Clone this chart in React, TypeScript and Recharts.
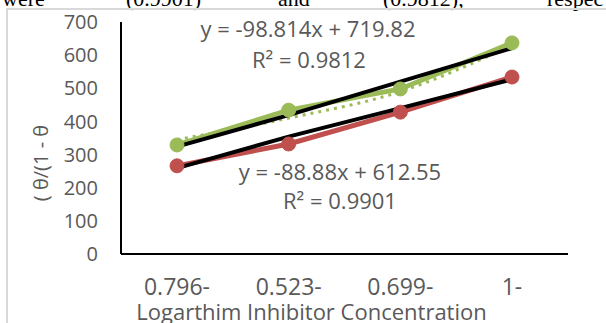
import { Line, LineChart, XAxis, YAxis } from "recharts";

// values
const categories = ["0.796-", "0.523-", "0.699-", "1-"];
const greenValues = [329, 434, 498, 637];
const redValues = [266, 332, 428, 534];
const greenDotted = [345, 410, 490, 630];
const greenTrend = [324, 419, 520, 621];
const redTrend = [259, 354, 440, 527];
const yTicks = [0, 100, 200, 300, 400, 500, 600, 700];

const GREEN = "#9BBB59";
const RED = "#C0504D";
const GREY_TEXT = "#595959";
const FONT = "'Open Sans', sans-serif";

const data = categories.map((cat, i) => ({
  cat,
  green: greenValues[i],
  red: redValues[i],
  greenDotted: greenDotted[i],
  greenTrend: greenTrend[i],
  redTrend: redTrend[i],
}));

const topWords = [
  { text: "were", left: 2 },
  { text: "(0.9901)", left: 126 },
  { text: "and", left: 278 },
  { text: "(0.9812),", left: 383 },
  { text: "respec", left: 547 },
];

const annotations = [
  { text: "y = -98.814x + 719.82", x: 308, y: 29 },
  { text: "R² = 0.9812", x: 309, y: 60 },
  { text: "y = -88.88x + 612.55", x: 340, y: 172 },
  { text: "R² = 0.9901", x: 340, y: 201 },
];

function YTitle({ viewBox }: any) {
  const cy = viewBox.y + viewBox.height / 2 + 25;
  return (
    <text
      x={40}
      y={cy}
      transform={`rotate(-90, 40, ${cy})`}
      textAnchor="middle"
      dominantBaseline="central"
      fill={GREY_TEXT}
      fontSize={20}
      fontFamily={FONT}
    >
      ( θ/(1 - θ
    </text>
  );
}

function XTitle({ viewBox }: any) {
  return (
    <text
      x={viewBox.x + viewBox.width / 2 - 33}
      y={320}
      textAnchor="middle"
      fill={GREY_TEXT}
      fontSize={22}
      fontFamily={FONT}
    >
      Logarthim Inhibitor Concentration
    </text>
  );
}

export default function App() {
  return (
    <div
      style={{
        position: "fixed",
        left: 0,
        top: 0,
        width: 606,
        height: 323,
        overflow: "hidden",
        background: "#fff",
      }}
    >
      {topWords.map((w) => (
        <span
          key={w.text}
          style={{
            position: "absolute",
            top: -12,
            left: w.left,
            fontFamily: "'Liberation Serif', 'Times New Roman', serif",
            fontSize: 22,
            lineHeight: "22px",
            color: "#000",
            whiteSpace: "nowrap",
          }}
        >
          {w.text}
        </span>
      ))}
      <div
        style={{
          position: "absolute",
          left: 6,
          top: 8,
          width: 700,
          height: 400,
          borderTop: "2px solid #d9d9d9",
          borderLeft: "2px solid #d9d9d9",
        }}
      />
      <div style={{ position: "absolute", left: 0, top: 0 }}>
        <LineChart width={606} height={323} data={data} margin={{ top: 22, right: 38, bottom: 0, left: 0 }}>
          <XAxis
            dataKey="cat"
            height={69}
            padding={{ left: 56, right: 56 }}
            tickLine={false}
            tickSize={0}
            tickMargin={25}
            axisLine={{ stroke: "#000", strokeWidth: 2 }}
            tick={{ fill: GREY_TEXT, fontSize: 23, fontFamily: FONT }}
            label={<XTitle />}
          />
          <XAxis
            xAxisId="top"
            dataKey="cat"
            orientation="top"
            height={0}
            tick={false}
            tickLine={false}
            axisLine={{ stroke: "#000", strokeWidth: 2 }}
          />
          <YAxis
            width={121}
            domain={[0, 700]}
            ticks={yTicks}
            tickLine={false}
            tickSize={0}
            tickMargin={23}
            axisLine={{ stroke: "#000", strokeWidth: 2 }}
            tick={{ fill: GREY_TEXT, fontSize: 20, fontFamily: FONT }}
            label={<YTitle />}
          />
          <YAxis
            yAxisId="right"
            orientation="right"
            width={0}
            domain={[0, 700]}
            tick={false}
            tickLine={false}
            axisLine={{ stroke: "#000", strokeWidth: 2 }}
          />
          <Line
            dataKey="green"
            stroke={GREEN}
            strokeWidth={5}
            dot={{ r: 7, fill: GREEN, stroke: GREEN, strokeWidth: 1 }}
            isAnimationActive={false}
          />
          <Line
            dataKey="red"
            stroke={RED}
            strokeWidth={5}
            dot={{ r: 7, fill: RED, stroke: RED, strokeWidth: 1 }}
            isAnimationActive={false}
          />
          <Line
            type="monotone"
            dataKey="greenDotted"
            stroke={GREEN}
            strokeWidth={3}
            strokeDasharray="3 5"
            dot={false}
            isAnimationActive={false}
          />
          <Line dataKey="greenTrend" stroke="#000" strokeWidth={4} dot={false} isAnimationActive={false} />
          <Line dataKey="redTrend" stroke="#000" strokeWidth={4} dot={false} isAnimationActive={false} />
        </LineChart>
      </div>
      {annotations.map((a) => (
        <div
          key={a.text}
          style={{
            position: "absolute",
            left: a.x,
            top: a.y - 12,
            transform: "translateX(-50%)",
            fontFamily: FONT,
            fontSize: 22,
            lineHeight: "22px",
            color: GREY_TEXT,
            whiteSpace: "nowrap",
          }}
        >
          {a.text}
        </div>
      ))}
    </div>
  );
}
